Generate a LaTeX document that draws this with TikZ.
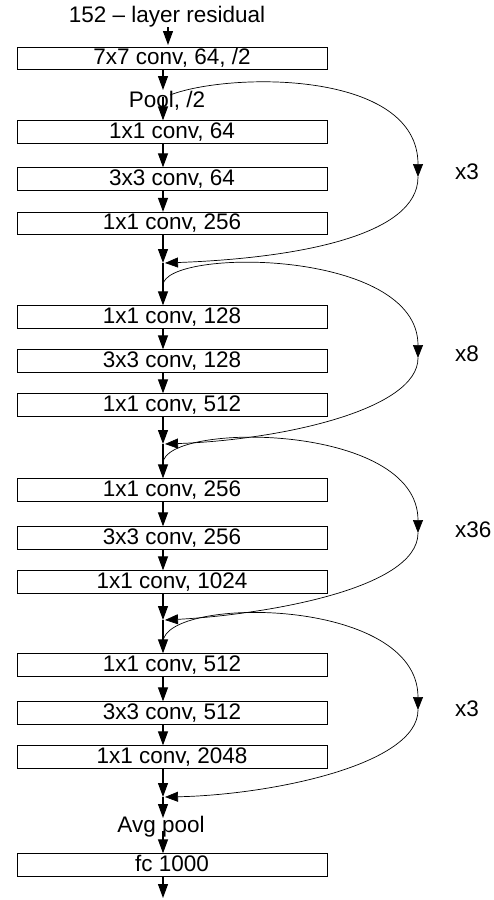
\documentclass[tikz,border=0pt]{standalone}
\usepackage{fontspec}
\setmainfont{Liberation Sans}
\usetikzlibrary{arrows.meta}
\begin{document}
\begin{tikzpicture}[x=1pt,y=-1pt,
  every node/.style={font=\fontsize{22.5}{26}\selectfont, inner sep=0pt},
  layerbox/.style={draw, line width=0.8pt, minimum width=310pt, minimum height=22.5pt, text height=16.5pt, text depth=4pt},
  arr/.style={line width=1.1pt, -{Triangle[length=14pt,width=10pt]}},
  skip/.style={line width=0.7pt},
  skiparr/.style={line width=0.7pt, -{Triangle[length=13pt,width=10pt]}},
  lbl/.style={anchor=west}]
\useasboundingbox (0,0) rectangle (494,900);
% main column x
\coordinate (ax) at (163,0);
% title
\node (title) at (167,17) {152 -- layer residual};
\coordinate (t0) at (168,27);
\coordinate (t1) at (168,45);
\draw[arr] (t0) -- (t1);
% boxes
\node[layerbox] (b0)  at (172,58.5) {7x7 conv, 64, /2};
\node (pool) at (167,101) {Pool, /2};
\node[layerbox] (b1)  at (172,132)  {1x1 conv, 64};
\node[layerbox] (b2)  at (172,179)  {3x3 conv, 64};
\node[layerbox] (b3)  at (172,223.5) {1x1 conv, 256};
\node[layerbox] (b4)  at (172,317)  {1x1 conv, 128};
\node[layerbox] (b5)  at (172,361)  {3x3 conv, 128};
\node[layerbox] (b6)  at (172,405)  {1x1 conv, 512};
\node[layerbox] (b7)  at (172,490)  {1x1 conv, 256};
\node[layerbox] (b8)  at (172,538)  {3x3 conv, 256};
\node[layerbox] (b9)  at (172,582)  {1x1 conv, 1024};
\node[layerbox] (b10) at (172,665)  {1x1 conv, 512};
\node[layerbox] (b11) at (172,713)  {3x3 conv, 512};
\node[layerbox] (b12) at (172,757)  {1x1 conv, 2048};
\node (avg) at (161,827) {Avg pool};
\node[layerbox] (b13) at (172,865)  {fc 1000};
% repeat labels
\node[lbl] (x1) at (455,172) {x3};
\node[lbl] (x2) at (455,354) {x8};
\node[lbl] (x3) at (455,530) {x36};
\node[lbl] (x4) at (455,709) {x3};
% merge points and helper coordinates
\coordinate (p0) at (163,90);
\coordinate (p1) at (163,97);
\coordinate (m1) at (163,263);
\coordinate (m2) at (163,444);
\coordinate (m3) at (163,620);
\coordinate (m4) at (163,797);
\coordinate (a0) at (163,818);
\coordinate (a1) at (163,831);
\coordinate (e0) at (163,898);
% main arrows
\draw[arr] (b0.south -| ax) -- (p0);
\draw[arr] (p1) -- (b1.north -| ax);
\draw[arr] (b1.south -| ax) -- (b2.north -| ax);
\draw[arr] (b2.south -| ax) -- (b3.north -| ax);
\draw[arr] (b3.south -| ax) -- (m1);
\draw[arr] (m1) -- (b4.north -| ax);
\draw[arr] (b4.south -| ax) -- (b5.north -| ax);
\draw[arr] (b5.south -| ax) -- (b6.north -| ax);
\draw[arr] (b6.south -| ax) -- (m2);
\draw[arr] (m2) -- (b7.north -| ax);
\draw[arr] (b7.south -| ax) -- (b8.north -| ax);
\draw[arr] (b8.south -| ax) -- (b9.north -| ax);
\draw[arr] (b9.south -| ax) -- (m3);
\draw[arr] (m3) -- (b10.north -| ax);
\draw[arr] (b10.south -| ax) -- (b11.north -| ax);
\draw[arr] (b11.south -| ax) -- (b12.north -| ax);
\draw[arr] (b12.south -| ax) -- (m4);
\draw[arr] (m4) -- (a0);
\draw[arr] (a1) -- (b13.north -| ax);
\draw[arr] (b13.south -| ax) -- (e0);
% skip connections
\coordinate (s1) at (170,95);
\coordinate (r1) at (418,177);
\coordinate (k1) at (165,263);
\draw[skiparr] (s1) .. controls (230,72) and (418,70) .. (r1);
\draw[skiparr] (r1) .. controls (418,235) and (300,258) .. (k1);
\coordinate (s2) at (163,285);
\coordinate (r2) at (418,358);
\coordinate (k2) at (165,444);
\draw[skiparr] (s2) .. controls (165,248) and (418,248) .. (r2);
\draw[skiparr] (r2) .. controls (418,410) and (280,440) .. (k2);
\coordinate (s3) at (163,463);
\coordinate (r3) at (418,533);
\coordinate (k3) at (165,620);
\draw[skiparr] (s3) .. controls (165,422) and (418,422) .. (r3);
\draw[skiparr] (r3) .. controls (418,590) and (260,615) .. (k3);
\coordinate (s4) at (163,642);
\coordinate (r4) at (418,710);
\coordinate (k4) at (165,797);
\draw[skiparr] (s4) .. controls (165,596) and (418,596) .. (r4);
\draw[skiparr] (r4) .. controls (418,765) and (270,795) .. (k4);
\end{tikzpicture}
\end{document}
